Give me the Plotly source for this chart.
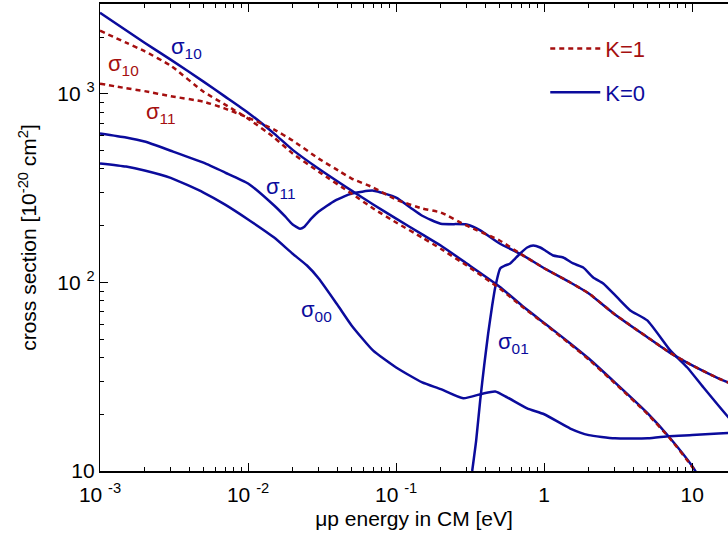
import plotly.graph_objects as go
import math

BLUE = "#0b0b9c"
RED = "#a50f0f"

# ---------- K=0 (solid) ----------
s10_k0_x = [0.001, 0.002, 0.003, 0.005, 0.007, 0.01, 0.015, 0.02, 0.03, 0.05, 0.07, 0.1,
            0.15, 0.2, 0.3, 0.5, 0.7, 1, 1.5, 2, 3, 5, 7, 10, 11]
s10_k0_y = [2698, 1870, 1521, 1163, 968, 796, 616, 505, 401, 307, 259, 218,
            180, 157, 126, 95, 76, 61, 47.5, 39.5, 29.5, 20.2, 15.1, 10.6, 9.4]

s11_k0_x = [0.001, 0.0015, 0.002, 0.003, 0.005, 0.007, 0.01, 0.015, 0.0178, 0.02, 0.0224,
            0.0239, 0.0267, 0.03, 0.0387, 0.05, 0.07, 0.1, 0.1245, 0.15, 0.2, 0.3, 0.37, 0.5, 0.7,
            1, 1.5, 2, 3, 5, 7, 10, 15, 21]
s11_k0_y = [617, 587, 559, 500, 432, 383, 335, 256, 224, 203, 193,
            197, 218, 238, 272, 296, 307, 282, 250, 226, 205, 203, 189, 161, 141,
            119, 100, 87.5, 67.7, 51.1, 42.6, 36.3, 31.0, 27.8]

s00_k0_x = [0.001, 0.0015, 0.002, 0.003, 0.005, 0.007, 0.01, 0.015, 0.02, 0.025, 0.03, 0.04,
            0.05, 0.07, 0.1, 0.15, 0.2, 0.284, 0.387, 0.467, 0.562, 0.767, 1, 1.5, 2, 3, 5,
            7, 10, 15, 21]
s00_k0_y = [428, 412, 393, 359, 300, 259, 216, 173, 142, 123, 105, 76.4,
            59.2, 43.5, 35.4, 29.5, 27.2, 24.3, 25.8, 26.4, 24.6, 21.5, 20.0, 16.8, 15.5, 14.9, 14.9,
            15.3, 15.5, 15.8, 16.0]

s01_k0_x = [0.3263, 0.347, 0.3695, 0.3932, 0.4184, 0.4453, 0.4666, 0.5043, 0.545, 0.5892,
            0.6366, 0.6884, 0.7675, 0.8428, 0.9397, 1.016, 1.15, 1.344, 1.57, 1.834, 2.143,
            2.504, 3.113, 3.812, 4.966, 7.101, 9.252, 11.87, 17.51, 21.1]
s01_k0_y = [10.0, 14.5, 23.7, 36.3, 53.7, 75.5, 94.1, 118.7, 123.1, 126.1,
            134.0, 142.5, 153.3, 157.1, 153.3, 147.8, 139.0, 135.7, 126.1, 120.1, 106.3,
            98.8, 83.3, 71.1, 62.9, 43.6, 35.4, 27.8, 19.3, 16.6]

# ---------- K=1 (dashed) ----------
s10_k1_x = [0.001, 0.0015, 0.002, 0.003, 0.005, 0.007, 0.01, 0.015, 0.02, 0.03, 0.05, 0.07,
            0.1, 0.15, 0.2, 0.3, 0.5, 0.7, 1, 1.5, 2, 3, 5, 7, 10, 11]
s10_k1_y = [2166, 1870, 1686, 1413, 1028, 878, 740, 587, 483, 387, 296, 247,
            208, 173, 151, 123, 93, 75, 60.5, 47, 39, 29.2, 20, 15, 10.5, 9.3]

s11_k1_x = [0.001, 0.0015, 0.002, 0.003, 0.005, 0.007, 0.01, 0.015, 0.02, 0.03, 0.0419, 0.05,
            0.07, 0.1, 0.15, 0.2, 0.3, 0.5, 0.7, 1, 1.5, 2, 3, 5, 7, 10, 15, 21]
s11_k1_y = [1134, 1073, 1035, 973, 910, 836, 749, 647, 566, 454, 387, 356,
            319, 275, 247, 235, 200, 167, 141, 119, 100, 87.5, 67.7, 51.1, 42.6, 36.3, 31.0, 27.8]

# ---------- labels ----------
lab_text = ["σ<sub>10</sub>", "σ<sub>10</sub>", "σ<sub>11</sub>", "σ<sub>11</sub>", "σ<sub>00</sub>", "σ<sub>01</sub>"]
lab_x = [0.00381, 0.00143, 0.00258, 0.0167, 0.0288, 0.617]
lab_y = [1760, 1430, 796, 319, 71, 48]
lab_col = [BLUE, RED, RED, BLUE, BLUE, BLUE]

x_tickvals = [0.001, 0.01, 0.1, 1, 10]
x_ticktext = ["10 <sup>-3</sup>", "10 <sup>-2</sup>", "10 <sup>-1</sup>", "1", "10"]
y_tickvals = [10, 100, 1000]
y_ticktext = ["10", "10 <sup>2</sup>", "10 <sup>3</sup>"]
x_minor = [m * 10 ** e for e in range(-3, 2) for m in range(2, 10)]
y_minor = [m * 10 ** e for e in range(1, 4) for m in range(2, 10)]

FONT = "Liberation Sans, Arial, Helvetica, sans-serif"

fig = go.Figure()
blue_sets = [(s10_k0_x, s10_k0_y), (s11_k0_x, s11_k0_y), (s00_k0_x, s00_k0_y), (s01_k0_x, s01_k0_y)]
for i, (xs, ys) in enumerate(blue_sets):
    fig.add_trace(go.Scatter(x=xs, y=ys, mode="lines", line=dict(color=BLUE, width=2.5, shape="spline", smoothing=0.5),
                             name="<span style='color:%s'>K=0</span>" % BLUE, showlegend=(i == 0),
                             legendgroup="k0", legendrank=2))
red_sets = [(s10_k1_x, s10_k1_y), (s11_k1_x, s11_k1_y)]
for i, (xs, ys) in enumerate(red_sets):
    fig.add_trace(go.Scatter(x=xs, y=ys, mode="lines",
                             line=dict(color=RED, width=2.5, dash="5px,4px", shape="spline", smoothing=0.5),
                             name="<span style='color:%s'>K=1</span>" % RED, showlegend=(i == 0),
                             legendgroup="k1", legendrank=1))

for t, x, y, c in zip(lab_text, lab_x, lab_y, lab_col):
    fig.add_annotation(x=math.log10(x), y=math.log10(y), text=t, showarrow=False,
                       font=dict(size=22, color=c, family=FONT))

fig.update_layout(
    width=728, height=547,
    margin=dict(l=100, r=0, t=4, b=76, autoexpand=False),
    paper_bgcolor="white", plot_bgcolor="white",
    font=dict(family=FONT, size=21, color="black"),
    showlegend=True,
    legend=dict(x=0.709, y=0.949, xanchor="left", yanchor="top", bgcolor="rgba(0,0,0,0)",
                traceorder="grouped", font=dict(size=22), tracegroupgap=12, itemwidth=50),
    xaxis=dict(type="log", range=[-3, 1.2412], showline=True, linecolor="black", linewidth=2,
               mirror="ticks", ticks="inside", ticklen=8, tickwidth=1.2, tickcolor="black",
               tickmode="array", tickvals=x_tickvals, ticktext=x_ticktext, showgrid=False, zeroline=False,
               automargin=False, ticklabelstandoff=4,
               minor=dict(tickmode="array", tickvals=x_minor, ticks="inside", ticklen=4, tickwidth=1,
                          tickcolor="black", showgrid=False),
               title=dict(text="μp energy in CM [eV]", standoff=6, font=dict(size=21))),
    yaxis=dict(type="log", range=[1, math.log10(3000)], showline=True, linecolor="black", linewidth=1.2,
               mirror=False, ticks="inside", ticklen=8, tickwidth=1.2, tickcolor="black",
               tickmode="array", tickvals=y_tickvals, ticktext=y_ticktext, showgrid=False, zeroline=False,
               automargin=False,
               minor=dict(tickmode="array", tickvals=y_minor, ticks="inside", ticklen=4, tickwidth=1,
                          tickcolor="black", showgrid=False),
               title=dict(text="cross section [10<sup>-20</sup> cm<sup>2</sup>]", standoff=14, font=dict(size=21))),
)

fig.write_html("out.html", config={"displayModeBar": False},
               post_script="document.body.style.margin='0';document.body.style.padding='0';")
